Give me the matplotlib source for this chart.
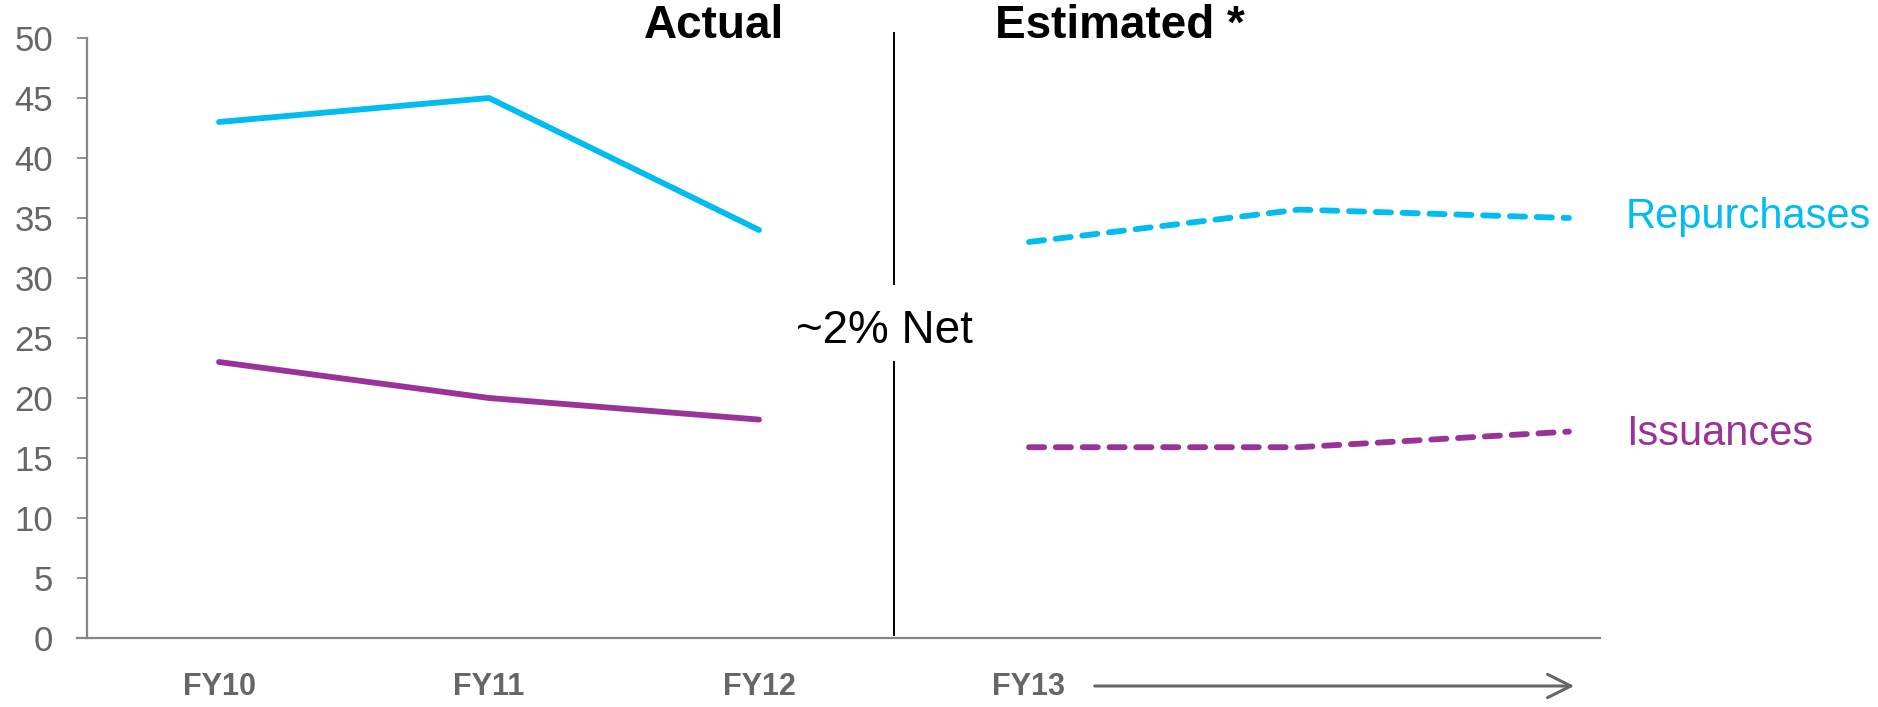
import matplotlib
matplotlib.use("Agg")
import matplotlib.pyplot as plt

# Share repurchases vs issuances, actual years then the estimate
years = ["FY10", "FY11", "FY12", "FY13"]
actual_x = [0, 1, 2]
repurchases_actual = [43.0, 45.0, 34.0]
issuances_actual = [23.0, 20.0, 18.2]
est_x = [3, 4, 5]
repurchases_est = [33.0, 35.7, 35.0]
issuances_est = [15.9, 15.9, 17.2]
y_ticks = [0, 5, 10, 15, 20, 25, 30, 35, 40, 45, 50]

CYAN = "#00BCF0"
PURPLE = "#993399"
GRAY = "#666666"
AXIS_GRAY = "#868686"

plt.rcParams["font.family"] = ["Liberation Sans", "DejaVu Sans"]

fig = plt.figure(figsize=(18.78, 7.07), dpi=100)
ax = fig.add_axes([87 / 1878, 1 - 638 / 707, (1600 - 87) / 1878, 600 / 707])

lw = 4.2
ax.plot(actual_x, repurchases_actual, color=CYAN, lw=lw, solid_capstyle="round", solid_joinstyle="round")
ax.plot(actual_x, issuances_actual, color=PURPLE, lw=lw, solid_capstyle="round", solid_joinstyle="round")
dash = (0, (2.6, 2.0))
ax.plot(est_x, repurchases_est, color=CYAN, lw=lw, linestyle=dash, dash_capstyle="round")
ax.plot(est_x, issuances_est, color=PURPLE, lw=lw, linestyle=dash, dash_capstyle="round")

xmin, xmax = -0.489, 5.115
ax.set_xlim(xmin, xmax)
ax.set_ylim(0, 50)
ax.set_yticks(y_ticks)
ax.tick_params(axis="y", direction="out", length=7.5, width=1.3, color=AXIS_GRAY,
               labelsize=25, labelcolor=GRAY, pad=17)
ax.set_xticks([])
for side in ["top", "right"]:
    ax.spines[side].set_visible(False)
for side in ["left", "bottom"]:
    ax.spines[side].set_color(AXIS_GRAY)
    ax.spines[side].set_linewidth(1.6)
ax.spines["left"].set_zorder(0)
# bottom axis runs out past the y axis by one tick length
ax.spines["bottom"].set_bounds(xmin - 0.037, xmax)

# category labels under the axis, with an arrow for the projection years
for i, name in enumerate(years):
    ax.text(i, -4.1, name, ha="center", va="center", fontsize=22, fontweight="bold",
            color=GRAY, clip_on=False)
ax.annotate("", xy=(5.03, -4.0), xytext=(3.233, -4.0), xycoords="data",
            arrowprops=dict(arrowstyle="->", color=GRAY, lw=2.2, mutation_scale=42),
            annotation_clip=False)

# divider between actual and estimated, broken around the net label
split = 2.5
ax.plot([split, split], [50.4, 29.5], color="black", lw=1.4, clip_on=False)
ax.plot([split, split], [23.0, 0.25], color="black", lw=1.4, clip_on=False)
ax.text(2.463, 24.6, "~2% Net", ha="center", va="baseline", fontsize=33, color="black")

ax.text(1.833, 50.0, "Actual", ha="center", va="baseline", fontsize=33, fontweight="bold",
        clip_on=False)
ax.text(3.337, 50.0, "Estimated *", ha="center", va="baseline", fontsize=33, fontweight="bold",
        clip_on=False)

# series names at the right end
ax.text(5.211, 35.1, "Repurchases", ha="left", va="center", fontsize=30, color=CYAN, clip_on=False)
ax.text(5.211, 17.0, "Issuances", ha="left", va="center", fontsize=30, color=PURPLE, clip_on=False)

fig.savefig("out.png", dpi=100, facecolor="white")
